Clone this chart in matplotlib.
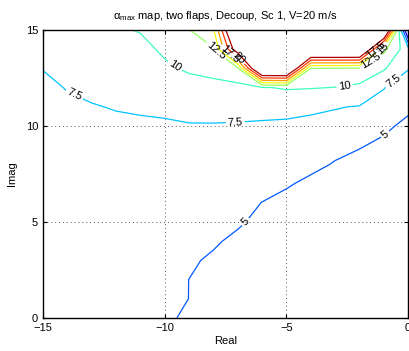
import numpy as np
import matplotlib
matplotlib.use("Agg")
import matplotlib.pyplot as plt

plt.rcParams['font.family'] = ['Liberation Sans', 'DejaVu Sans']
plt.rcParams['mathtext.default'] = 'regular'

# grid of the map (Real x Imag)
real_vals = [-15, -14, -13, -12, -11, -10, -9, -8, -7, -6, -5, -4, -3, -2, -1, 0]
imag_vals = [0, 1, 2, 3, 4, 5, 6, 7, 8, 9, 10, 11, 12, 13, 14, 15]

# alpha_max, one list per Real value, from Imag=0 up to Imag=15
alpha_cols = [
    [6.0, 6.1, 6.2, 6.3, 6.35, 6.4, 6.45, 6.5, 6.6, 6.7, 6.85, 6.95, 7.1, 7.55, 8.0, 8.5],
    [5.8, 5.95, 6.1, 6.2, 6.3, 6.4, 6.45, 6.55, 6.65, 6.8, 6.95, 7.2, 7.58, 8.0, 8.5, 9.0],
    [5.6, 5.8, 5.95, 6.1, 6.2, 6.3, 6.4, 6.5, 6.65, 6.85, 7.05, 7.4, 7.9, 8.4, 8.9, 9.4],
    [5.45, 5.65, 5.8, 5.95, 6.1, 6.2, 6.35, 6.5, 6.65, 6.9, 7.15, 7.6, 8.1, 8.7, 9.3, 9.8],
    [5.3, 5.5, 5.7, 5.85, 6.0, 6.15, 6.3, 6.45, 6.65, 6.95, 7.25, 7.7, 8.3, 8.9, 9.5, 10.1],
    [5.2, 5.4, 5.6, 5.8, 5.95, 6.1, 6.25, 6.45, 6.7, 7.0, 7.3, 7.8, 8.7, 9.7, 10.3, 11.0],
    [4.8, 4.99, 4.99, 5.25, 5.55, 5.8, 6.05, 6.3, 6.6, 7.0, 7.42, 7.92, 9.3, 10.25, 11.2, 12.4],
    [4.5, 4.6, 4.65, 4.73, 5.23, 5.55, 5.85, 6.15, 6.5, 6.95, 7.42, 7.95, 9.5, 10.55, 12.3, 14.6],
    [4.2, 4.3, 4.4, 4.5, 4.6, 5.25, 5.6, 5.95, 6.35, 6.85, 7.35, 8.1, 9.3, 12.1, 25, 30],
    [3.95, 4.0, 4.1, 4.2, 4.35, 4.5, 4.97, 5.6, 6.05, 6.7, 7.3, 8.0, 9.8, 30, 30, 30],
    [3.7, 3.75, 3.8, 3.9, 4.05, 4.2, 4.6, 5.15, 5.8, 6.6, 7.25, 7.95, 10.25, 30, 30, 30],
    [3.5, 3.55, 3.6, 3.65, 3.75, 3.9, 4.2, 4.7, 5.35, 6.4, 7.1, 7.8, 10.12, 12.45, 30, 30],
    [3.3, 3.35, 3.4, 3.45, 3.5, 3.6, 3.9, 4.3, 4.9, 5.4, 6.9, 7.6, 9.95, 12.4, 30, 30],
    [3.1, 3.15, 3.2, 3.25, 3.3, 3.4, 3.6, 4.0, 4.6, 5.1, 6.2, 7.4, 9.4, 12.3, 30, 30],
    [2.9, 2.95, 3.0, 3.05, 3.1, 3.2, 3.4, 3.7, 4.2, 4.75, 5.25, 6.9, 7.56, 10.27, 13.06, 30],
    [2.7, 2.75, 2.8, 2.85, 2.9, 3.0, 3.1, 3.3, 3.8, 4.3, 4.7, 5.25, 6.5, 7.6, 8.5, -2],
]

levels = [2.5, 5, 7.5, 10, 12.5, 15, 17.5, 20, 22.5]
x_ticks = [-15, -10, -5, 0]
y_ticks = [0, 5, 10, 15]

# where the contour labels sit
label_spots = [(-13.5, 12.2), (-9.6, 13.1), (-7.9, 13.9), (-7.3, 13.8), (-7.0, 13.5),
               (-7.1, 10.2), (-2.6, 12.0), (-1.5, 13.3), (-1.3, 13.9), (-1.1, 14.1),
               (-6.6, 4.9), (-1.1, 9.8), (-0.6, 12.3)]

X, Y = np.meshgrid(real_vals, imag_vals)
Z = np.array(alpha_cols).T

fig = plt.figure(figsize=(4.09, 3.51), dpi=100)
ax = fig.add_axes([0.105, 0.094, 0.893, 0.8205])

cs = ax.contour(X, Y, Z, levels=levels, cmap='jet', vmin=0, vmax=23.5,
                linewidths=0.9)
ax.clabel(cs, fontsize=8, inline=True, inline_spacing=2, fmt='%g',
          colors='k', manual=label_spots)

ax.set_xlim(-15, 0)
ax.set_ylim(0, 15)
ax.set_xticks(x_ticks)
ax.set_yticks(y_ticks)
ax.grid(True, linestyle=(0, (1, 3)), color='0.35', linewidth=0.7)
ax.tick_params(direction='in', top=True, right=True, labelsize=8, length=3)
for s in ax.spines.values():
    s.set_linewidth(1.0)

ax.set_xlabel('Real', fontsize=8, labelpad=2)
ax.set_ylabel('Imag', fontsize=8, labelpad=6)
ax.set_title(r'$\alpha_{max}$ map, two flaps, Decoup, Sc 1, V=20 m/s',
             fontsize=8, pad=8)

fig.savefig('out.png', dpi=100)
